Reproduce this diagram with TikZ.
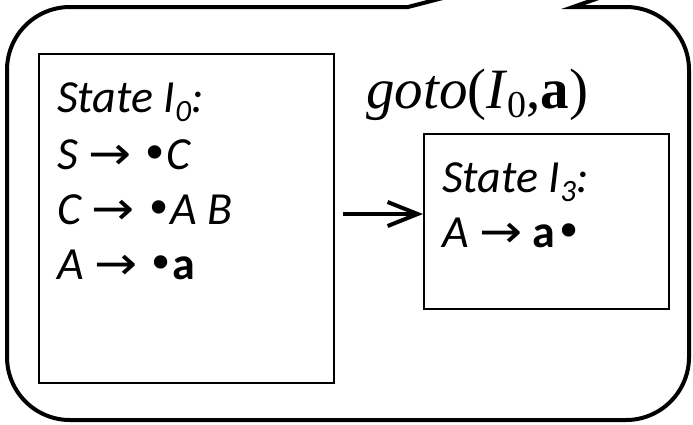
\documentclass[tikz,border=0pt]{standalone}
\usepackage{fontspec}
\setmainfont{Carlito}
\newfontfamily\tms{Liberation Serif}
\newfontfamily\djv{DejaVu Sans}
\usetikzlibrary{arrows.meta}
\newcommand{\myarr}{{\djv\upshape\scalebox{1.12}[1]{→}}}
\newcommand{\mybul}{{\djv\upshape •}\kern-0.05em}
\newcommand{\mysub}[1]{\raisebox{-0.2em}{\fontsize{31}{31}\selectfont #1}}
\begin{document}
\begin{tikzpicture}[x=1pt,y=-1pt,
  outer/.style={line width=4pt, line join=miter},
  box/.style={draw, line width=2pt, inner sep=0pt, anchor=north west},
  txt/.style={anchor=base west, inner sep=0pt, font=\fontsize{46}{54}\selectfont\itshape},
  gotofont/.style={anchor=base west, inner sep=0pt, font=\tms\fontsize{57}{62}\selectfont},
  link/.style={line width=4pt, -{Straight Barb[length=30pt,width=24pt,line width=4pt]}}]
\useasboundingbox (0,0) rectangle (693,424);
\fill[white] (0,0) rectangle (693,424);
% callout
\draw[outer] (462,-7) -- (408,7) -- (70,7)
  arc[start angle=270, end angle=180, radius=63] -- (7,357)
  arc[start angle=180, end angle=90, radius=63] -- (626,420)
  arc[start angle=90, end angle=0, radius=63] -- (689,70)
  arc[start angle=0, end angle=-90, radius=63] -- (573,7) -- (613,-7);
% boxes
\node[box, minimum width=295pt, minimum height=329pt] (b0) at (38,53) {};
\node[box, minimum width=245pt, minimum height=175pt] (b1) at (423,133) {};
% left texts
\node[txt] (t0) at (57,112) {State I\mysub{0}:};
\node[txt] (t1) at (57,169) {S \myarr{} \mybul C};
\node[txt] (t2) at (57,224) {C \myarr{} \mybul A B};
\node[txt] (t3) at (57,279) {A \myarr{} \mybul\textbf{\upshape a}};
% right texts
\node[txt] (r0) at (442,192) {State I\mysub{3}:};
\node[txt] (r1) at (442,247) {A \myarr{} \textbf{\upshape a}\mybul};
% goto label
\node[gotofont] (g) at (366,108) {\textit{goto}(\textit{I}\raisebox{-0.17em}{\fontsize{38}{40}\selectfont 0},\textbf{a})};
% arrow
\coordinate (as) at (343,214);
\draw[link] (as) -- (as -| b1.west);
\end{tikzpicture}
\end{document}
